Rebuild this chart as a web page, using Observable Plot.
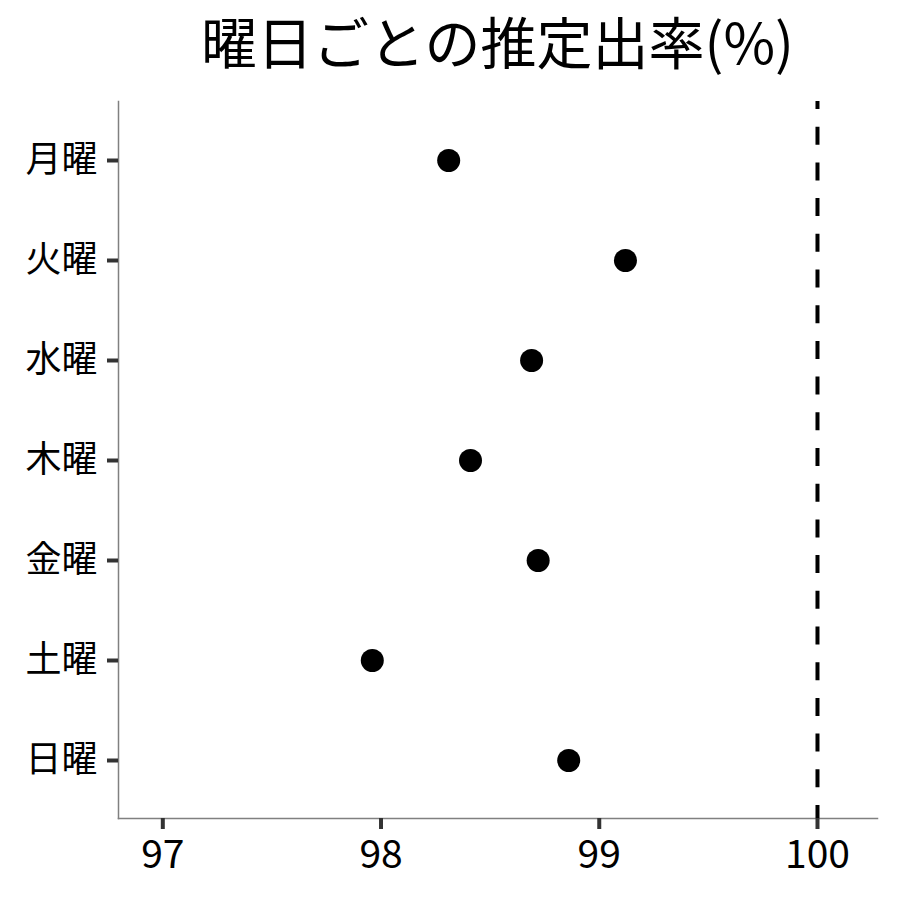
<!DOCTYPE html>
<html>
<head>
<meta charset="utf-8">
<script src="https://cdn.jsdelivr.net/npm/d3@7"></script>
<script src="https://cdn.jsdelivr.net/npm/@observablehq/plot@0.6"></script>
<style>
  html, body { margin: 0; padding: 0; background: #fff; }
  body { width: 900px; height: 900px; overflow: hidden; font-family: "Noto Sans CJK JP", "Noto Sans", sans-serif; }
  #title { height: 90px; box-sizing: border-box; padding: 12px 23px 0 118px; text-align: center; font-size: 56px; line-height: 1; color: #000; white-space: nowrap; }
  #chart svg { display: block; }
</style>
</head>
<body>
<div id="title">曜日ごとの推定出率(%)</div>
<div id="chart"></div>
<script>
const days = ["月曜", "火曜", "水曜", "木曜", "金曜", "土曜", "日曜"];
const rates = [98.31, 99.12, 98.69, 98.41, 98.72, 97.96, 98.86];
const xTicks = [97, 98, 99, 100];
const xDomain = [96.797, 100.275];
const reference = [100];

const data = days.map((d, i) => ({day: d, rate: rates[i]}));

const chart = Plot.plot({
  width: 900,
  height: 810,
  marginTop: 11,
  marginBottom: 82,
  marginLeft: 118,
  marginRight: 23,
  style: {fontFamily: '"Noto Sans CJK JP", "Noto Sans", sans-serif', background: "#fff", color: "#000"},
  x: {domain: xDomain, ticks: xTicks},
  y: {type: "point", domain: days, padding: 0.585},
  marks: [
    Plot.frame({anchor: "left", stroke: "#808080", strokeWidth: 1.5}),
    Plot.frame({anchor: "bottom", stroke: "#808080", strokeWidth: 1.5}),
    Plot.axisX({ticks: xTicks, tickSize: 11, tickPadding: 11, fontSize: 39, stroke: "#333", strokeWidth: 4, fill: "#000", label: null, tickFormat: d3.format("d")}),
    Plot.axisY({tickSize: 11, tickPadding: 10, fontSize: 36, stroke: "#333", strokeWidth: 4, fill: "#000", label: null}),
    Plot.ruleX(reference, {stroke: "#000", strokeWidth: 4, strokeDasharray: "18,17.7", strokeDashoffset: 10}),
    Plot.dot(data, {x: "rate", y: "day", r: 11.5, fill: "#000", stroke: "none"})
  ]
});
document.getElementById("chart").appendChild(chart);
</script>
</body>
</html>
